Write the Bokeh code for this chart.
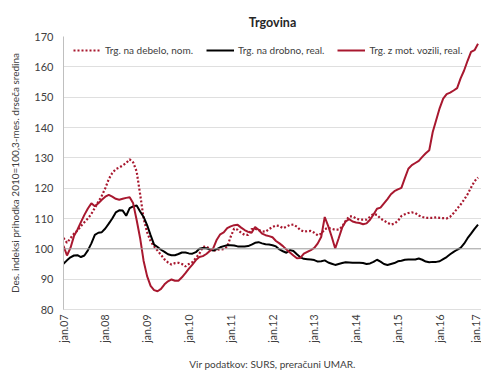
import math
from bokeh.plotting import figure
from bokeh.models import Range1d, FixedTicker, Span, Title, Legend
from bokeh.embed import file_html
from bokeh.resources import INLINE

# ---------------- data (monthly, Jan 2007 - Dec 2016) ----------------
WHOLESALE = [103.6, 102.0, 103.5, 105.0, 106.0, 107.5, 108.8, 110.0, 111.5, 113.5,
             115.5, 117.5, 120.0, 123.0, 125.0, 126.3, 126.8, 127.5, 128.3, 129.5,
             128.5, 125.5, 118.0, 110.0, 105.5, 102.5, 100.8, 99.4, 98.0, 96.5,
             95.5, 94.8, 95.3, 95.4, 95.0, 94.2, 95.0, 95.6, 97.0, 98.4,
             100.6, 100.8, 100.0, 99.3, 99.7, 99.8, 99.9, 100.7, 104.0, 106.7,
             106.3, 105.3, 104.6, 104.6, 106.5, 106.6, 106.2, 105.8, 105.6, 106.5,
             107.2, 107.7, 107.5, 106.8, 107.3, 107.9, 108.0, 107.3, 106.2, 105.7,
             105.8, 105.9, 105.3, 104.4, 105.0, 106.5, 106.9, 106.6, 106.3, 106.3,
             107.3, 109.2, 110.7, 110.7, 110.0, 109.6, 109.6, 109.6, 110.6, 111.5,
             111.2, 110.0, 109.3, 108.6, 108.0, 108.3, 109.2, 110.8, 111.4, 111.8,
             112.0, 111.8, 111.0, 110.5, 110.2, 110.2, 110.2, 110.4, 110.2, 110.1,
             110.0, 110.6, 111.8, 113.2, 114.6, 116.2, 118.0, 120.2, 122.3, 123.5]

RETAIL = [95.1, 96.2, 97.2, 97.8, 97.9, 97.3, 97.8, 99.5, 101.8, 104.6,
          105.3, 105.5, 106.7, 108.3, 110.0, 112.0, 112.7, 112.6, 110.9, 113.4,
          114.0, 114.3, 112.3, 110.5, 107.8, 104.5, 101.4, 100.6, 99.7, 99.0,
          98.2, 97.9, 97.9, 98.3, 98.8, 98.8, 98.5, 98.4, 98.9, 100.0,
          100.3, 100.2, 99.8, 99.4, 99.9, 100.5, 100.9, 101.2, 101.2, 101.1,
          100.8, 100.8, 100.8, 100.9, 101.4, 102.0, 102.2, 101.8, 101.5, 101.4,
          101.2, 100.8, 99.8, 99.2, 98.7, 99.6, 99.3, 98.2, 97.2, 96.7,
          96.6, 96.5, 96.3, 95.8, 95.9, 96.2, 95.5, 95.1, 94.7, 95.0,
          95.3, 95.6, 95.5, 95.4, 95.4, 95.4, 95.3, 95.0, 95.2, 95.7,
          96.4, 95.8, 95.0, 94.7, 95.0, 95.3, 95.9, 96.1, 96.4, 96.5,
          96.5, 96.5, 96.8, 96.4, 95.8, 95.6, 95.7, 95.7, 95.9, 96.6,
          97.3, 98.2, 99.0, 99.7, 100.3, 101.7, 103.5, 105.0, 106.6, 108.0]

MOTOR = [101.0, 97.8, 100.3, 104.2, 106.3, 108.8, 111.2, 113.3, 115.0, 114.0,
         115.0, 116.2, 117.2, 117.8, 117.2, 116.5, 116.2, 116.5, 116.8, 117.0,
         115.0, 109.5, 103.5, 96.0, 91.0, 87.8, 86.4, 86.0, 86.8, 88.3,
         89.3, 89.9, 89.5, 89.5, 90.6, 92.0, 93.5, 94.8, 96.3, 97.3,
         97.6, 98.3, 99.3, 100.2, 103.0, 104.8, 105.4, 106.8, 107.4, 107.8,
         107.9, 107.0, 106.2, 105.6, 105.3, 107.2, 106.3, 105.0, 104.5, 104.2,
         103.8, 102.6, 101.8, 100.9, 99.8, 98.8, 97.8, 96.9, 97.0, 98.4,
         99.0, 99.6, 100.3, 101.8, 104.0, 110.5, 107.5, 104.0, 100.1, 103.5,
         107.0, 109.0, 109.8, 109.0, 108.7, 108.5, 108.1, 108.4, 109.6, 111.3,
         113.2, 113.6, 115.0, 116.4, 118.0, 119.0, 119.6, 120.1, 123.3, 126.4,
         127.6, 128.3, 129.0, 130.3, 131.5, 132.5, 138.5, 142.5, 146.4, 149.5,
         151.0, 151.5, 152.2, 153.0, 156.2, 158.8, 162.0, 164.9, 165.5, 167.6]

MONTHS = list(range(len(MOTOR)))          # month index from jan.07
X_TICKS = [0, 12, 24, 36, 48, 60, 72, 84, 96, 108, 120]
X_LABELS = ["jan.07", "jan.08", "jan.09", "jan.10", "jan.11", "jan.12",
            "jan.13", "jan.14", "jan.15", "jan.16", "jan.17"]
Y_TICKS = [80, 90, 100, 110, 120, 130, 140, 150, 160, 170]
BASE = 100

SERIES_NAMES = ["Trg. na debelo, nom.", "Trg. na drobno, real.", "Trg. z mot. vozili, real."]
TITLE = "Trgovina"
Y_TITLE = "Des. indeksi prihodka 2010=100,3-mes. drseča sredina"
SOURCE = "Vir podatkov: SURS, preračuni UMAR."

RED = "#A8182F"
FONT = "Lato"
TXT = "#404040"

p = figure(width=481, height=380, output_backend="svg", toolbar_location=None,
           x_range=Range1d(X_TICKS[0], X_TICKS[-1]), y_range=Range1d(Y_TICKS[0], Y_TICKS[-1]),
           min_border_left=63, min_border_right=0, min_border_top=36, min_border_bottom=69)
p.outline_line_color = None
p.background_fill_color = "white"

# title
p.title = Title(text=TITLE, align="center", offset=-33, text_font=FONT,
                text_font_size="12.5px", text_font_style="bold", text_color="#262626",
                standoff=13)

# axes
p.xaxis.ticker = FixedTicker(ticks=X_TICKS)
p.xaxis.major_label_overrides = {t: l for t, l in zip(X_TICKS, X_LABELS)}
p.xaxis.major_label_orientation = math.pi / 2
p.yaxis.ticker = FixedTicker(ticks=Y_TICKS)
for ax in (p.xaxis, p.yaxis):
    ax.major_tick_line_color = None
    ax.minor_tick_line_color = None
    ax.major_tick_out = 0
    ax.major_label_text_font = FONT
    ax.major_label_text_color = TXT
p.xaxis.major_label_text_font_size = "10.5px"
p.yaxis.major_label_text_font_size = "11px"
p.xaxis.major_label_standoff = 5
p.yaxis.major_label_standoff = 10
p.yaxis.axis_line_color = "#BFBFBF"
p.xaxis.axis_line_color = "#BFBFBF"
p.xaxis.axis_line_dash = "1 1"
p.yaxis.axis_label = Y_TITLE
p.yaxis.axis_label_text_font = FONT
p.yaxis.axis_label_text_font_size = "10px"
p.yaxis.axis_label_text_font_style = "normal"
p.yaxis.axis_label_text_color = TXT
p.yaxis.axis_label_standoff = 10

p.xgrid.visible = False
p.ygrid.grid_line_color = "#BFBFBF"
p.ygrid.grid_line_dash = "1 1"
p.ygrid.grid_line_width = 1

p.add_layout(Span(location=BASE, dimension="width", line_color="#A6A6A6", line_width=1))
p.add_layout(Span(location=X_TICKS[-1], dimension="height", line_color="#D0D0D0", line_width=1))

# series
r1 = p.line(MONTHS, WHOLESALE, line_color=RED, line_width=2.2, line_dash="2 2")
r2 = p.line(MONTHS, RETAIL, line_color="black", line_width=2)
r3 = p.line(MONTHS, MOTOR, line_color=RED, line_width=2)

legend = Legend(items=[(SERIES_NAMES[0], [r1]), (SERIES_NAMES[1], [r2]), (SERIES_NAMES[2], [r3])],
                orientation="horizontal")
legend.label_text_font = FONT
legend.label_text_font_size = "10px"
legend.label_text_color = TXT
legend.glyph_width = 28
legend.glyph_height = 12
legend.label_standoff = 4
legend.spacing = 13
legend.padding = 4
legend.margin = 0
legend.border_line_color = None
legend.background_fill_color = "white"
legend.background_fill_alpha = 1.0
legend.label_height = 12
legend.location = (10, 253)
p.add_layout(legend, "center")

# source
p.add_layout(Title(text=SOURCE, align="center", offset=-10, text_font=FONT, standoff=21,
                   text_font_size="10px", text_font_style="normal", text_color=TXT), "below")

open("out.html", "w").write(file_html(p, INLINE))
